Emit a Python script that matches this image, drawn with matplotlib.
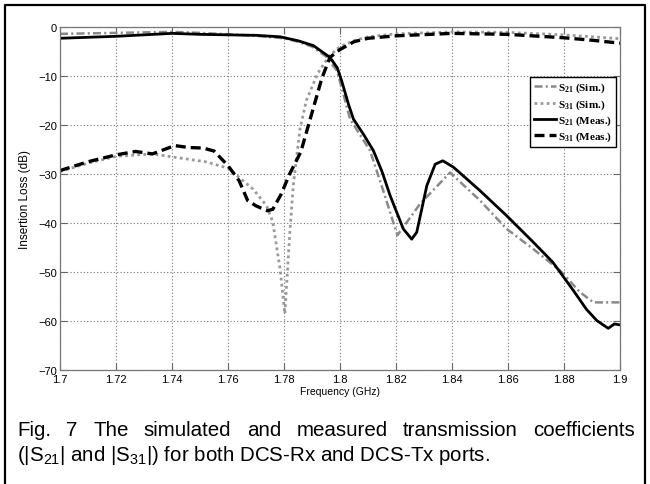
import matplotlib
matplotlib.use("Agg")
import matplotlib.pyplot as plt
from matplotlib.lines import Line2D

# ---- data ----
f_s21_sim = [1.700, 1.720, 1.740, 1.750, 1.760, 1.770, 1.780, 1.785, 1.790, 1.795, 1.799, 1.8036,
             1.8107, 1.8155, 1.8205, 1.8286, 1.8393, 1.850, 1.8595, 1.869, 1.8786, 1.8857, 1.8905, 1.900]
s21_sim = [-1.4, -1.2, -1.0, -1.2, -1.5, -1.8, -2.3, -3.0, -4.0, -6.0, -9.0, -18.8,
           -25.2, -33.5, -42.5, -36.1, -29.7, -35.4, -41.2, -45.3, -49.7, -54.1, -56.2, -56.2]

f_s31_sim = [1.700, 1.710, 1.720, 1.733, 1.740, 1.752, 1.760, 1.769, 1.7738, 1.776, 1.7786, 1.7803,
             1.7821, 1.7833, 1.7857, 1.788, 1.792, 1.796, 1.800, 1.805, 1.810, 1.820, 1.840, 1.860,
             1.880, 1.900]
s31_sim = [-29.5, -27.8, -26.4, -25.9, -26.5, -27.5, -28.8, -33.1, -36.5, -39.8, -49.4, -58.5,
           -41.8, -32.4, -20.8, -15.0, -9.5, -6.0, -4.0, -2.8, -2.0, -1.4, -1.0, -1.1,
           -1.6, -2.4]

f_s21_meas = [1.700, 1.710, 1.720, 1.730, 1.740, 1.750, 1.760, 1.770, 1.7786, 1.785, 1.7905, 1.7964,
              1.7990, 1.8006, 1.803, 1.8048, 1.8085, 1.8119, 1.8150, 1.8179, 1.8226, 1.8256, 1.8274,
              1.831, 1.834, 1.8367, 1.8405, 1.850, 1.8595, 1.869, 1.876, 1.883, 1.888, 1.8917,
              1.8958, 1.898, 1.900]
s21_meas = [-2.3, -2.1, -1.9, -1.6, -1.3, -1.5, -1.6, -1.7, -2.0, -2.8, -3.8, -6.2,
            -8.3, -11.0, -15.7, -18.8, -22.0, -25.2, -29.5, -34.4, -41.2, -43.3, -41.9,
            -32.4, -28.0, -27.3, -28.6, -33.4, -38.5, -43.9, -48.0, -53.5, -57.6, -59.9,
            -61.5, -60.6, -60.8]

f_s31_meas = [1.700, 1.710, 1.720, 1.727, 1.733, 1.741, 1.746, 1.751, 1.755, 1.760, 1.764, 1.767,
              1.770, 1.774, 1.776, 1.779, 1.782, 1.786, 1.789, 1.791, 1.7935, 1.7964, 1.800,
              1.805, 1.810, 1.820, 1.840, 1.860, 1.880, 1.890, 1.900]
s31_meas = [-29.3, -27.5, -26.1, -25.4, -25.9, -24.2, -24.6, -24.7, -25.3, -28.3, -31.4, -35.4,
            -36.5, -37.5, -37.2, -34.1, -30.0, -25.5, -19.5, -15.5, -10.5, -6.2, -4.6,
            -3.0, -2.3, -1.8, -1.3, -1.5, -2.2, -2.7, -3.3]

xticks = [1.70, 1.72, 1.74, 1.76, 1.78, 1.80, 1.82, 1.84, 1.86, 1.88, 1.90]
xticklabels = ["1.7", "1.72", "1.74", "1.76", "1.78", "1.8", "1.82", "1.84", "1.86", "1.88", "1.9"]
yticks = [0, -10, -20, -30, -40, -50, -60, -70]

caption1 = "Fig. 7 The simulated and measured transmission coefficients"
caption2 = (r"(|S$\mathregular{_{21}}$| and |S$\mathregular{_{31}}$|) "
            r"for both DCS-Rx and DCS-Tx ports.")

W, H = 650, 485
fig = plt.figure(figsize=(W / 100, H / 100), dpi=100)
ax = fig.add_axes([60 / W, 1 - 371 / H, 560 / W, 343 / H])

ax.plot(f_s21_sim, s21_sim, color="#8a8a8a", lw=1.8, dashes=(3.2, 1.3, 0.8, 1.3), label=r"S$\mathregular{_{21}}$ (Sim.)")
ax.plot(f_s31_sim, s31_sim, color="#9a9a9a", lw=2.0, linestyle=(0, (1, 1.2)), label=r"S$\mathregular{_{31}}$ (Sim.)")
ax.plot(f_s21_meas, s21_meas, color="black", lw=2.0, label=r"S$\mathregular{_{21}}$ (Meas.)")
ax.plot(f_s31_meas, s31_meas, color="black", lw=2.4, dashes=(3.0, 1.5), label=r"S$\mathregular{_{31}}$ (Meas.)")

ax.set_xlim(1.7, 1.9)
ax.set_ylim(-70, 0)
ax.set_xticks(xticks)
ax.set_xticklabels(xticklabels)
ax.set_yticks(yticks)
ax.grid(True, linestyle=(0, (1, 2)), color="#777777", lw=0.8)
ax.tick_params(direction="in", length=5, top=True, right=True, labelsize=8, pad=3, color="#666666")
ax.tick_params(axis="y", pad=2)
for lab in ax.get_xticklabels() + ax.get_yticklabels():
    lab.set_family("Liberation Sans")
for sp in ax.spines.values():
    sp.set_color("#777777")
    sp.set_linewidth(0.9)

ax.set_xlabel("Frequency (GHz)", family="Liberation Sans", fontsize=7.5, labelpad=1)
ax.set_ylabel("Insertion Loss (dB)", family="Liberation Sans", fontsize=8.5, labelpad=5)

leg = ax.legend(loc="upper right", bbox_to_anchor=(0.993, 0.854),
                prop={"family": "Liberation Serif", "size": 8, "weight": "bold"},
                fancybox=False, framealpha=1, edgecolor="black", handlelength=2.0, handletextpad=0.15,
                borderpad=0.35, labelspacing=0.25, borderaxespad=0)
leg.get_frame().set_linewidth(1.0)

# outer frame of the figure panel
fig.add_artist(Line2D([5 / W, 5 / W, 645 / W, 645 / W], [0, 1 - 6 / H, 1 - 6 / H, 0],
                      transform=fig.transFigure, color="black", lw=1.6))

# caption, first line justified
cap_kw = dict(family="Liberation Sans", fontsize=14.8, va="baseline", ha="left")
words = caption1.split()
texts = [fig.text(0, 1 - 436 / H, w, **cap_kw) for w in words]
fig.canvas.draw()
r = fig.canvas.get_renderer()
widths = [t.get_window_extent(r).width for t in texts]
x0, x1 = 17, 635
gap = (x1 - x0 - sum(widths)) / (len(words) - 1)
x = x0
for t, w in zip(texts, widths):
    t.set_x(x / W)
    x += w + gap
fig.text(x0 / W, 1 - 461 / H, caption2, **cap_kw)

fig.savefig("out.png", dpi=100)
